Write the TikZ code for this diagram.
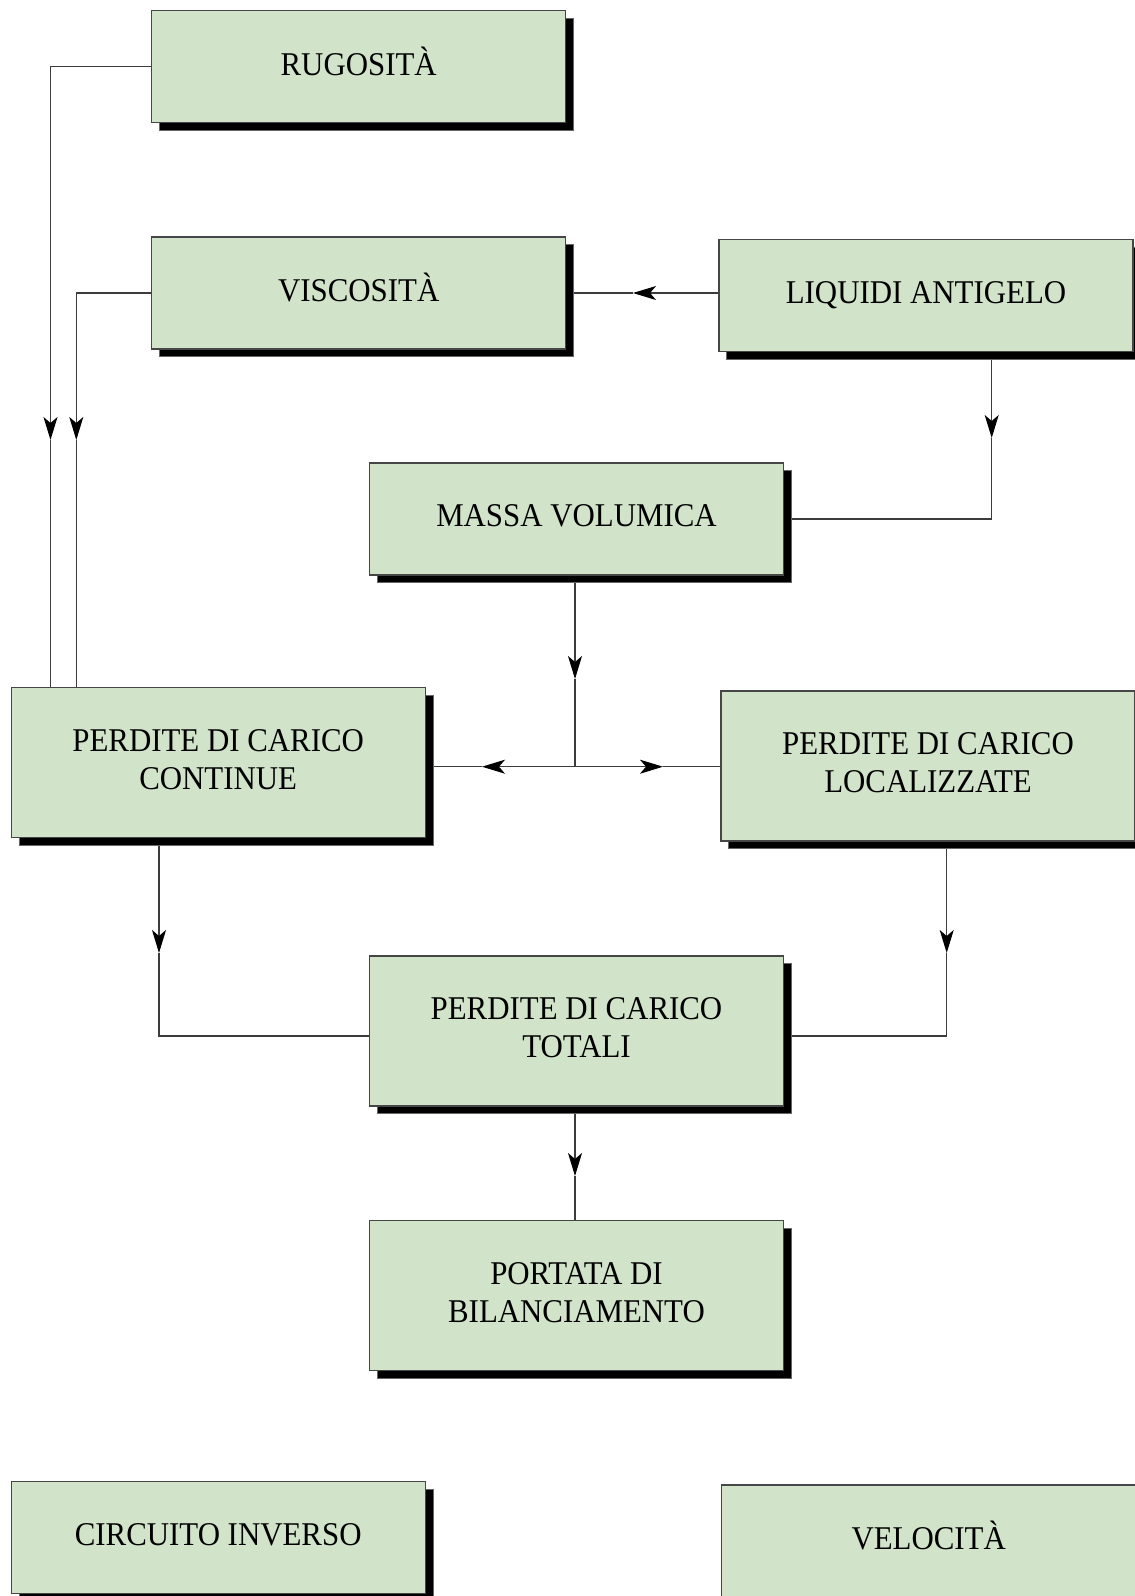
\documentclass[tikz,border=0pt]{standalone}
\usepackage{fontspec}
\setmainfont{Liberation Serif}[FakeStretch=0.93]
\usetikzlibrary{arrows.meta,shadows,backgrounds}
\definecolor{boxfill}{RGB}{209,227,201}
\definecolor{boxline}{RGB}{70,70,70}
\definecolor{connline}{RGB}{60,60,60}
\tikzset{
  box/.style={rectangle, draw=boxline, line width=0.6pt, fill=boxfill,
    minimum width=207pt, inner sep=0pt, outer sep=0pt,
    font=\fontsize{16.6}{19}\selectfont,
    drop shadow={shadow xshift=3.8pt, shadow yshift=-3.8pt, fill=black, draw=black!60, line width=0.3pt, opacity=1}},
  onebox/.style={box, minimum height=56pt},
  twobox/.style={box, minimum height=75pt},
  conn/.style={draw=connline, line width=0.55pt},
  arr/.style={conn, -{Stealth[length=11.5pt, width=7pt, inset=3pt, color=black, fill=black]}}
}
\newcommand{\lbl}[1]{\begin{tabular}{@{}c@{}}#1\end{tabular}}
\begin{document}
\begin{tikzpicture}[x=0.5pt,y=-0.5pt]
\useasboundingbox (0,0) rectangle (1135,1596);
\clip (0,0) rectangle (1135,1596);
% boxes
\node[onebox] (rug)   at (358.7,66.5)  {\lbl{RUGOSITÀ}};
\node[onebox] (visc)  at (358.7,293)   {\lbl{VISCOSITÀ}};
\node[onebox] (liq)   at (926,295.5)   {\lbl{LIQUIDI ANTIGELO}};
\node[onebox] (massa) at (576.5,519)   {\lbl{MASSA VOLUMICA}};
\node[twobox] (cont)  at (218.2,762.7) {\lbl{PERDITE DI CARICO\\CONTINUE}};
\node[twobox] (loc)   at (928,766)     {\lbl{PERDITE DI CARICO\\LOCALIZZATE}};
\node[twobox] (tot)   at (576.5,1031)  {\lbl{PERDITE DI CARICO\\TOTALI}};
\node[twobox] (port)  at (576.5,1295.6){\lbl{PORTATA DI\\BILANCIAMENTO}};
\node[onebox] (circ)  at (218.2,1537.5){\lbl{CIRCUITO INVERSO}};
\node[onebox] (velo)  at (928.7,1541)  {\lbl{VELOCITÀ}};
% arrow tip coordinates
\coordinate (aR)  at (50.5,440);
\coordinate (aV)  at (76.3,440);
\coordinate (aL)  at (633,293);
\coordinate (aM)  at (991.7,438);
\coordinate (aD)  at (575,679);
\coordinate (jn)  at (575,766.7);
\coordinate (aC)  at (482,766.7);
\coordinate (aLo) at (663,766.7);
\coordinate (aT1) at (159,953);
\coordinate (aT2) at (946.7,953);
\coordinate (aP)  at (575,1176);
\begin{scope}[on background layer]
% rugosita -> continue
\draw[arr] (rug.west) -| (aR);
\draw[conn] (aR) -- (aR |- cont.north);
% viscosita -> continue
\draw[arr] (visc.west) -| (aV);
\draw[conn] (aV) -- (aV |- cont.north);
% liquidi -> viscosita
\draw[arr] (liq.west |- aL) -- (aL);
\draw[conn] (aL) -- (visc.east |- aL);
% liquidi -> massa
\draw[arr] (aM |- liq.south) -- (aM);
\draw[conn] (aM) |- (massa.east);
% massa -> split
\draw[arr] (massa.south -| aD) -- (aD);
\draw[conn] (aD) -- (jn);
\draw[arr] (jn) -- (aC);
\draw[conn] (aC) -- (cont.east |- aC);
\draw[arr] (jn) -- (aLo);
\draw[conn] (aLo) -- (loc.west |- aLo);
% continue / localizzate -> totali
\draw[arr] (cont.south -| aT1) -- (aT1);
\draw[conn] (aT1) |- ([yshift=-2.5pt]tot.west);
\draw[arr] (loc.south -| aT2) -- (aT2);
\draw[conn] (aT2) |- ([yshift=-2.5pt]tot.east);
% totali -> portata
\draw[arr] (tot.south -| aP) -- (aP);
\draw[conn] (aP) -- (aP |- port.north);
\end{scope}
\end{tikzpicture}
\end{document}
